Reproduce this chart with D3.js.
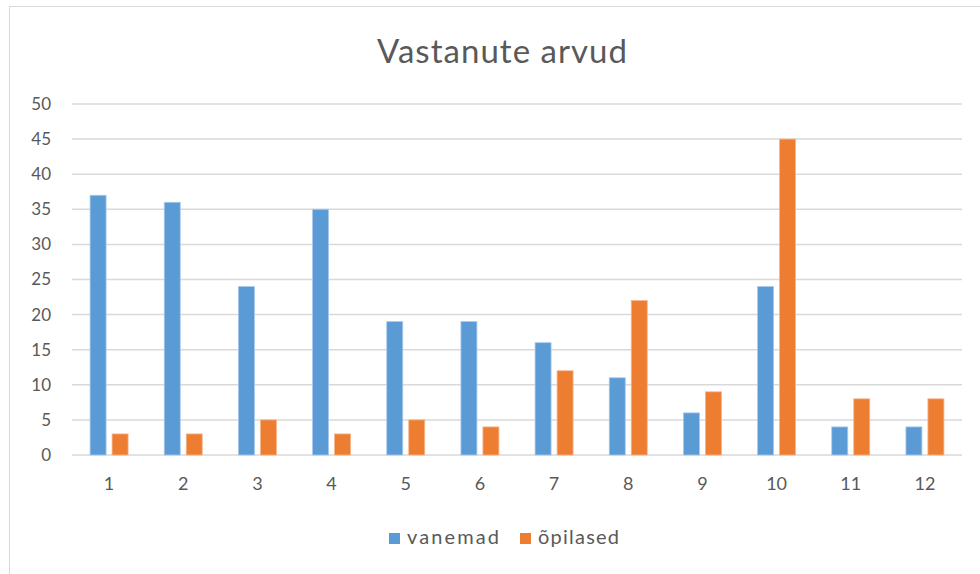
<!DOCTYPE html>
<html>
<head>
<meta charset="utf-8">
<script src="https://cdn.jsdelivr.net/npm/d3@7"></script>
<style>
  body { margin: 0; background: #fff; }
  text { font-family: Lato, "Open Sans", sans-serif; fill: #595959; }
</style>
</head>
<body>
<svg id="chart" width="980" height="574"></svg>
<script>
var categories = ["1", "2", "3", "4", "5", "6", "7", "8", "9", "10", "11", "12"];
var vanemad = [37, 36, 24, 35, 19, 19, 16, 11, 6, 24, 4, 4];
var opilased = [3, 3, 5, 3, 5, 4, 12, 22, 9, 45, 8, 8];
var seriesNames = ["vanemad", "õpilased"];
var colors = ["#5B9BD5", "#ED7D31"];
var yTicks = [0, 5, 10, 15, 20, 25, 30, 35, 40, 45, 50];

var svg = d3.select("#chart");
var margin = { top: 104, left: 72, right: 18, bottom: 119 };
var width = 980 - margin.left - margin.right;
var height = 574 - margin.top - margin.bottom;

// chart frame
svg.append("rect")
  .attr("x", 9.5).attr("y", 6.5)
  .attr("width", 1000).attr("height", 600)
  .attr("fill", "#fff")
  .attr("stroke", "#d9d9d9");

svg.append("text")
  .attr("x", 502)
  .attr("y", 63)
  .attr("text-anchor", "middle")
  .attr("textLength", 250)
  .attr("lengthAdjust", "spacing")
  .style("font-size", "33px")
  .text("Vastanute arvud");

var g = svg.append("g")
  .attr("transform", "translate(" + margin.left + "," + margin.top + ")");

var x0 = d3.scaleBand().domain(categories).range([0, width]);
var bw = x0.bandwidth();
var x1 = d3.scaleBand().domain(seriesNames)
  .range([bw / 2 - 19, bw / 2 + 19])
  .paddingInner(6 / 22);
var y = d3.scaleLinear().domain([0, 50]).range([height, 0]);

// gridlines
g.append("g")
  .selectAll("line")
  .data(yTicks)
  .join("line")
  .attr("x1", 0).attr("x2", width)
  .attr("y1", d => y(d)).attr("y2", d => y(d))
  .attr("stroke", "#d9d9d9")
  .attr("stroke-width", 1.5);

// y axis labels
var yAxis = g.append("g")
  .call(d3.axisLeft(y).tickValues(yTicks).tickSize(0).tickPadding(21));
yAxis.select(".domain").remove();
yAxis.selectAll("text")
  .style("font-size", "17px")
  .attr("font-family", null)
  .style("fill", "#595959");

// x axis labels
var xAxis = g.append("g")
  .attr("transform", "translate(0," + height + ")")
  .call(d3.axisBottom(x0).tickSize(0).tickPadding(22));
xAxis.select(".domain").remove();
xAxis.selectAll("text")
  .attr("font-family", null)
  .style("font-size", "18px")
  .style("fill", "#595959");

var rows = categories.map((c, i) => ({ cat: c, values: [vanemad[i], opilased[i]] }));

g.append("g")
  .selectAll("g")
  .data(rows)
  .join("g")
  .attr("transform", d => "translate(" + x0(d.cat) + ",0)")
  .selectAll("rect")
  .data(d => d.values.map((v, k) => ({ key: seriesNames[k], value: v, k: k })))
  .join("rect")
  .attr("x", d => x1(d.key))
  .attr("width", x1.bandwidth())
  .attr("y", d => y(d.value))
  .attr("height", d => y(0) - y(d.value))
  .attr("fill", d => colors[d.k])
  .attr("stroke", d => d.k === 0 ? "#a9c9ec" : "#f6b58c")
  .attr("stroke-width", 0.8);

// legend
var legend = svg.append("g").attr("transform", "translate(389,533)");
var legendX = [0, 131];
var legendLen = [92, 81];
seriesNames.forEach((name, k) => {
  var item = legend.append("g").attr("transform", "translate(" + legendX[k] + ",0)");
  item.append("rect")
    .attr("width", 11).attr("height", 11)
    .attr("fill", colors[k]);
  item.append("text")
    .attr("x", 18).attr("y", 11)
    .attr("textLength", legendLen[k])
    .attr("lengthAdjust", "spacing")
    .style("font-size", "20px")
    .text(name);
});
</script>
</body>
</html>
